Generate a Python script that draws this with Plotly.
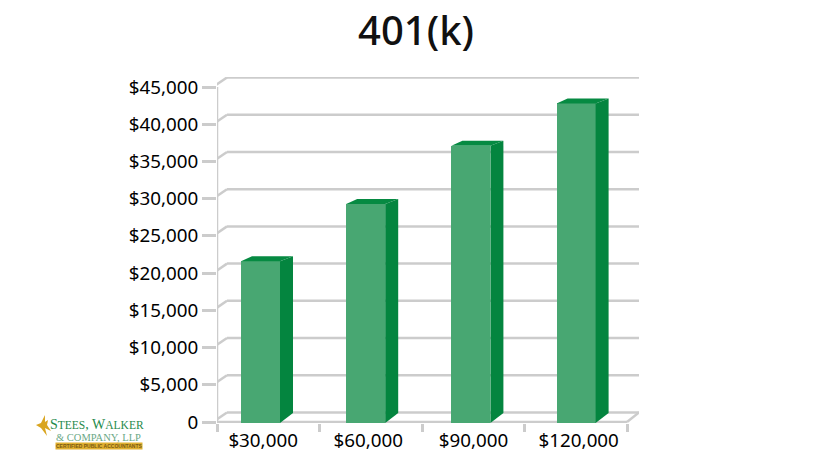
"""Build the 401(k) column chart with a faked 3D look."""

import plotly.graph_objects as go

# chart data
categories = ["$30,000", "$60,000", "$90,000", "$120,000"]
contributions = [21600, 29300, 37100, 42800]
y_ticks = [0, 5000, 10000, 15000, 20000, 25000, 30000, 35000, 40000, 45000]
y_labels = ["0", "$5,000", "$10,000", "$15,000", "$20,000", "$25,000",
            "$30,000", "$35,000", "$40,000", "$45,000"]

GRID = "#cccccc"
FRONT = "#48a772"
SIDE = "#04853f"
TOP = "#068a42"
FONT = "Noto Sans"

W, H = 825, 461

# pixel frame of the plot
LEFT, RIGHT = 217, 639
BOTTOM, TOP_PX = 423, 77
Y0_PX, Y45_PX = 422, 87

# x units: one category = 105.2px, first bar centred at 260.5px
X_UNIT = 105.2
X_ZERO = 260.5
# y units
Y_UNIT = (Y0_PX - Y45_PX) / 45000


def x_from_px(px):
    return (px - X_ZERO) / X_UNIT


def y_from_px(px):
    return (Y0_PX - px) / Y_UNIT


x_range = [x_from_px(LEFT), x_from_px(RIGHT)]
y_range = [y_from_px(BOTTOM), y_from_px(TOP_PX)]

bar_width = 39 / X_UNIT
side_dx = 13 / X_UNIT
top_dx = 11 / X_UNIT
top_dy = 5 / Y_UNIT
floor_dy = 9 / Y_UNIT
wall_dx = 10 / X_UNIT
wall_dy = 9.5 / Y_UNIT
floor_width = 410 / X_UNIT

positions = list(range(len(categories)))

fig = go.Figure()

# front faces
fig.add_trace(
    go.Bar(
        x=positions,
        y=[v - y_range[0] for v in contributions],
        base=y_range[0],
        width=bar_width,
        marker=dict(color=FRONT, line=dict(width=0)),
        hoverinfo="skip",
        showlegend=False,
    )
)

# side and top faces
for pos, value in zip(positions, contributions):
    front_right = pos + bar_width / 2
    front_left = pos - bar_width / 2
    fig.add_trace(
        go.Scatter(
            x=[front_right, front_right + side_dx, front_right + side_dx, front_right],
            y=[value, value + top_dy, floor_dy, y_range[0]],
            fill="toself",
            fillcolor=SIDE,
            mode="lines",
            line=dict(width=0),
            hoverinfo="skip",
            showlegend=False,
        )
    )
    fig.add_trace(
        go.Scatter(
            x=[front_left, front_left + top_dx, front_right + side_dx, front_right],
            y=[value, value + top_dy, value + top_dy, value],
            fill="toself",
            fillcolor=TOP,
            mode="lines",
            line=dict(width=0),
            hoverinfo="skip",
            showlegend=False,
        )
    )

# back wall grid lines with the little diagonal to the front ticks
shapes = []
grid_line = dict(color=GRID, width=2.5)
for tick in y_ticks:
    shapes.append(
        dict(type="line", layer="below", xref="x", yref="y", line=grid_line,
             x0=x_range[0] - 4 / X_UNIT, y0=tick,
             x1=x_range[0] + wall_dx, y1=tick + wall_dy)
    )
    shapes.append(
        dict(type="line", layer="below", xref="x", yref="y", line=grid_line,
             x0=x_range[0] + wall_dx, y0=tick + wall_dy,
             x1=x_range[1], y1=tick + wall_dy)
    )

# left axis line, front of the floor and its right edge
shapes.append(
    dict(type="line", layer="below", xref="x", yref="y", line=grid_line,
         x0=x_range[0], y0=0, x1=x_range[0], y1=45000)
)
shapes.append(
    dict(type="line", layer="below", xref="x", yref="y", line=grid_line,
         x0=x_range[0], y0=0, x1=x_range[0] + floor_width, y1=0)
)
shapes.append(
    dict(type="line", layer="below", xref="x", yref="y", line=grid_line,
         x0=x_range[0] + floor_width, y0=0, x1=x_range[1], y1=wall_dy)
)


def logo_star(cx, cy, points):
    # four pointed gold sparkle, in page pixels
    path = []
    for i, (dx, dy) in enumerate(points):
        cmd = "M" if i == 0 else "L"
        path.append(f"{cmd}{(cx + dx) / W:.4f},{1 - (cy + dy) / H:.4f}")
    return "".join(path) + "Z"


star_points = [(-6, 0), (-1, -2), (3, -10), (3, -3), (6, -5), (5, 0), (9, 6), (3, 3), (5, 11), (-1, 3)]
shapes.append(
    dict(type="path", xref="paper", yref="paper", path=logo_star(42, 425, star_points),
         fillcolor="#d9a520", line=dict(width=0))
)

annotations = [
    dict(
        text='S<span style="font-size:11.5px">TEES</span>, W<span style="font-size:11.5px">ALKER</span>',
        x=48 / W, y=1 - 424 / H, xref="paper", yref="paper",
        xanchor="left", yanchor="middle", showarrow=False,
        font=dict(family="Liberation Serif", size=14, color="#1f8a4c"),
    ),
    dict(
        text="&amp; COMPANY, LLP",
        x=54 / W, y=1 - 437 / H, xref="paper", yref="paper",
        xanchor="left", yanchor="middle", showarrow=False,
        font=dict(family="Liberation Serif", size=10.5, color="#6aa886"),
    ),
    dict(
        text="<b>CERTIFIED PUBLIC ACCOUNTANTS</b>",
        x=98.5 / W, y=1 - 446 / H, xref="paper", yref="paper",
        xanchor="center", yanchor="middle", showarrow=False,
        bgcolor="#e0b030", borderpad=0,
        font=dict(family="Liberation Sans", size=5, color="#7a5a10"),
    ),
]

fig.update_layout(
    width=W,
    height=H,
    margin=dict(l=0, r=0, t=0, b=0),
    paper_bgcolor="white",
    plot_bgcolor="white",
    showlegend=False,
    bargap=0,
    font=dict(family=FONT, size=19, color="#000000"),
    title=dict(
        text="401(k)",
        x=416 / W,
        xanchor="center",
        y=1 - 31 / H,
        yanchor="middle",
        font=dict(family=FONT, size=40, color="#111111", weight=500),
    ),
    shapes=shapes,
    annotations=annotations,
)

fig.update_xaxes(
    automargin=False,
    domain=[LEFT / W, RIGHT / W],
    range=x_range,
    tickmode="array",
    tickvals=[p + 0.025 for p in positions],
    ticktext=categories,
    ticks="",
    ticklabelstandoff=4,
    showgrid=False,
    zeroline=False,
    showline=False,
    minor=dict(
        tickmode="array",
        tickvals=[x_range[0] + i * floor_width / 4 for i in range(5)],
        ticks="outside",
        ticklen=8,
        tickwidth=2.5,
        tickcolor=GRID,
        showgrid=False,
    ),
    tickfont=dict(family=FONT, size=18.8, color="#000000"),
)
fig.update_yaxes(
    automargin=False,
    domain=[1 - BOTTOM / H, 1 - TOP_PX / H],
    range=y_range,
    tickmode="array",
    tickvals=y_ticks,
    ticktext=y_labels,
    ticks="outside",
    ticklen=14,
    tickwidth=2.5,
    tickcolor=GRID,
    showgrid=False,
    zeroline=False,
    showline=False,
    tickfont=dict(family=FONT, size=18.8, color="#000000"),
)

fig.write_html(
    "out.html",
    config={"displayModeBar": False},
    post_script="document.body.style.margin = '0';",
)
